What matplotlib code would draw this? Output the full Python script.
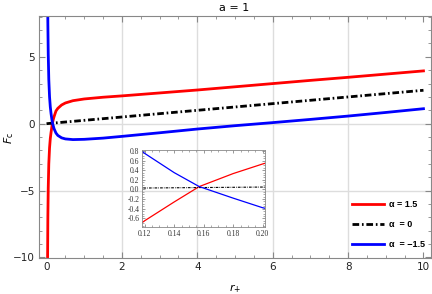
import matplotlib
matplotlib.use("Agg")
from matplotlib import pyplot as plt
from matplotlib.ticker import MultipleLocator, FormatStrFormatter

# values
r = [0.028, 0.035, 0.045, 0.06, 0.08, 0.10, 0.12, 0.14, 0.157, 0.18, 0.20,
     0.25, 0.30, 0.40, 0.50, 0.70, 1.0, 1.5, 2, 3, 4, 5, 6, 7, 8, 9, 10]
f_red = [-10.0, -7.0, -4.8, -3.0, -1.8, -1.1, -0.65, -0.26, 0.06, 0.33, 0.53,
         0.95, 1.15, 1.40, 1.55, 1.72, 1.85, 1.98, 2.08, 2.30, 2.52, 2.76,
         3.0, 3.24, 3.47, 3.71, 3.95]
f_blue = [10.5, 7.5, 5.2, 3.3, 2.0, 1.25, 0.75, 0.35, 0.06, -0.18, -0.38,
          -0.70, -0.88, -1.06, -1.14, -1.19, -1.17, -1.08, -0.95, -0.68,
          -0.40, -0.15, 0.08, 0.32, 0.57, 0.84, 1.12]
r_black = [0, 0.12, 0.20, 10]
f_black = [0, 0.03, 0.05, 2.5]

labels = ["α = 1.5", "α  = 0", "α  = \u22121.5"]

gray = "#888888"
dashdot = (0, (2.4, 1.0, 0.6, 1.0))

fig = plt.figure(figsize=(4.32, 2.94), dpi=100)
ax = fig.add_axes([39 / 432, 1 - 258 / 294, 392 / 432, 242.3 / 294])

ax.plot(r, f_red, color=(1, 0, 0), lw=2, label=labels[0])
ax.plot(r_black, f_black, color="black", lw=2, linestyle=dashdot, label=labels[1])
ax.plot(r, f_blue, color=(0, 0, 1), lw=2, label=labels[2])

ax.set_xlim(-0.2, 10.2)
ax.set_ylim(-10.05, 8.08)
for xv in [2, 4, 6, 8]:
    ax.axvline(xv, color="#dddddd", lw=1, zorder=0)
for yv in [-5, 0]:
    ax.axhline(yv, color="#dddddd", lw=1, zorder=0)

ax.xaxis.set_major_locator(MultipleLocator(2))
ax.xaxis.set_minor_locator(MultipleLocator(0.5))
ax.yaxis.set_major_locator(MultipleLocator(5))
ax.yaxis.set_minor_locator(MultipleLocator(1))
ax.tick_params(which="both", direction="in", top=True, right=True,
               color=gray, labelsize=7.5, labelcolor="#222222", pad=3)
ax.tick_params(which="major", length=4, width=0.8)
ax.tick_params(which="minor", length=2.2, width=0.6)
for s in ax.spines.values():
    s.set_color(gray)
    s.set_linewidth(0.8)

fig.text(0.542, 0.973, "a = 1", fontsize=8, ha="center", va="center")
fig.text(0.02, 0.53, r"$F_{\mathrm{c}}$", fontsize=8, rotation=90,
         ha="center", va="center")
fig.text(0.544, 0.02, r"$r_{+}$", fontsize=8, ha="center", va="center")

leg = fig.legend(loc="upper left", bbox_to_anchor=(352 / 432, 1 - 200 / 294),
                 frameon=False, handlelength=3.5,
                 handletextpad=0.6, labelspacing=1.22, borderpad=0,
                 borderaxespad=0,
                 prop={"weight": "bold", "size": 6.5, "family": "Liberation Sans"})

# inset
axin = fig.add_axes([142 / 432, 1 - 227 / 294, 123 / 432, 77 / 294])
axin.set_facecolor("none")
axin.plot(r, f_red, color=(1, 0, 0), lw=0.9)
axin.plot(r_black, f_black, color="black", lw=0.8, linestyle=dashdot)
axin.plot(r, f_blue, color=(0, 0, 1), lw=0.9)
axin.set_xlim(0.1182, 0.2016)
axin.set_ylim(-0.78, 0.82)
axin.xaxis.set_major_locator(MultipleLocator(0.02))
axin.xaxis.set_minor_locator(MultipleLocator(0.005))
axin.yaxis.set_major_locator(MultipleLocator(0.2))
axin.yaxis.set_minor_locator(MultipleLocator(0.05))
axin.xaxis.set_major_formatter(FormatStrFormatter("%.2f"))
axin.yaxis.set_major_formatter(FormatStrFormatter("%.1f"))
axin.tick_params(which="both", direction="in", top=True, right=True,
                 color=gray, labelsize=5.5, labelcolor="#333333", pad=2)
axin.tick_params(which="major", length=2.5, width=0.6)
axin.tick_params(which="minor", length=1.3, width=0.5)
for lab in axin.get_xticklabels() + axin.get_yticklabels():
    lab.set_family("Liberation Serif")
for s in axin.spines.values():
    s.set_color(gray)
    s.set_linewidth(0.6)

fig.savefig("out.png", dpi=100)
